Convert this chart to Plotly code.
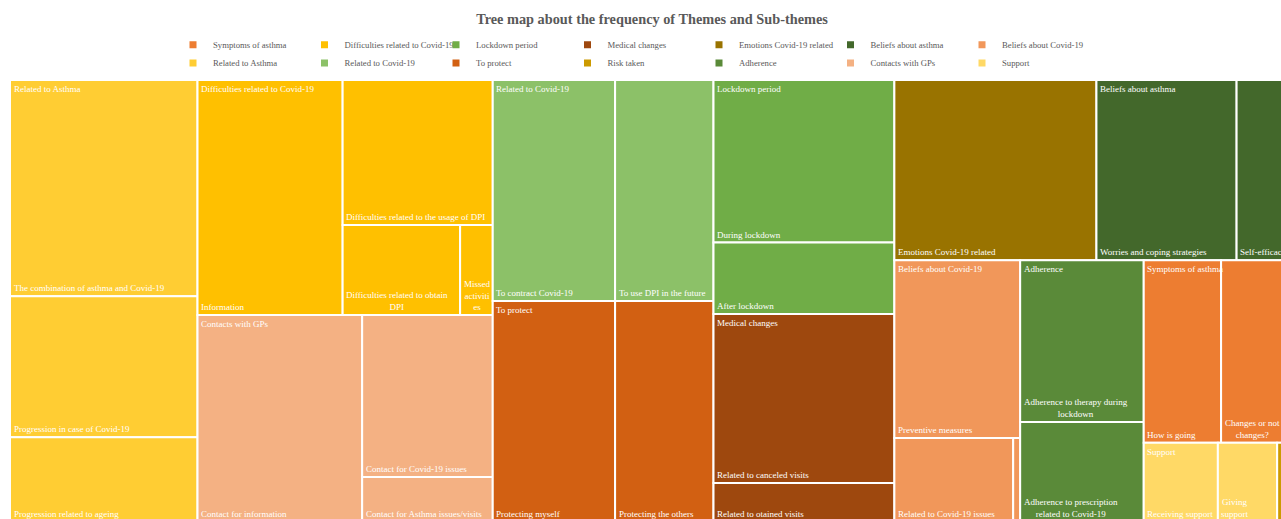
import plotly.graph_objects as go

# ---------------- data ----------------
THEMES = [
    "Symptoms of asthma", "Difficulties related to Covid-19", "Lockdown period", "Medical changes",
    "Emotions Covid-19 related", "Beliefs about asthma", "Beliefs about Covid-19",
    "Related to Asthma", "Related to Covid-19", "To protect", "Risk taken", "Adherence",
    "Contacts with GPs", "Support",
]

LEAF_THEME = [
    "Related to Asthma", "Related to Asthma", "Related to Asthma",
    "Difficulties related to Covid-19", "Difficulties related to Covid-19",
    "Difficulties related to Covid-19", "Difficulties related to Covid-19",
    "Contacts with GPs", "Contacts with GPs", "Contacts with GPs",
    "Related to Covid-19", "Related to Covid-19",
    "To protect", "To protect",
    "Lockdown period", "Lockdown period",
    "Medical changes", "Medical changes",
    "Emotions Covid-19 related",
    "Beliefs about asthma", "Beliefs about asthma",
    "Beliefs about Covid-19", "Beliefs about Covid-19", "Beliefs about Covid-19",
    "Adherence", "Adherence",
    "Symptoms of asthma", "Symptoms of asthma",
    "Support", "Support",
    "Risk taken",
]
LEAF_LABEL = [
    "The combination of asthma and Covid-19", "Progression in case of Covid-19", "Progression related to ageing",
    "Information", "Difficulties related to the usage of DPI",
    "Difficulties related to obtain DPI", "Missed activities",
    "Contact for information", "Contact for Covid-19 issues", "Contact for Asthma issues/visits",
    "To contract Covid-19", "To use DPI in the future",
    "Protecting myself", "Protecting the others",
    "During lockdown", "After lockdown",
    "Related to canceled visits", "Related to otained visits",
    "Emotions Covid-19 related",
    "Worries and coping strategies", "Self-efficacy",
    "Preventive measures", "Related to Covid-19 issues", "Other",
    "Adherence to therapy during lockdown", "Adherence to prescription related to Covid-19",
    "How is going", "Changes or not changes?",
    "Receiving support", "Giving support",
    "Risk taken",
]
LEAF_FREQ = [
    69, 45, 27,
    58, 37, 18, 5,
    58, 36, 10,
    46, 37,
    46, 37,
    50, 22,
    52, 12,
    62,
    43, 17,
    38, 17, 1,
    34, 21,
    24, 22,
    10, 8,
    2,
]

# ---------------- style / layout settings ----------------
THEME_COLORS = [
    "#ED7D31", "#FFC000", "#70AD47", "#9E480E", "#997300", "#43682B", "#F1975A",
    "#FFCD33", "#8CC168", "#D26012", "#CC9A00", "#5A8A39", "#F4B183", "#FFD966",
]
# how long labels are broken into lines inside narrow cells
LABEL_LINES = {
    "Difficulties related to obtain DPI": "Difficulties related to obtain<br>DPI",
    "Missed activities": "Missed<br>activiti<br>es",
    "Adherence to therapy during lockdown": "Adherence to therapy during<br>lockdown",
    "Adherence to prescription related to Covid-19": "Adherence to prescription<br>related to Covid-19",
    "Changes or not changes?": "Changes or not<br>changes?",
    "Giving support": "Giving<br>support",
}
FIRST_SPLIT = {"Related to Covid-19": "columns", "To protect": "columns", "Symptoms of asthma": "columns"}

FIG_W, FIG_H = 1281, 519
TREE_X0, TREE_X1, TREE_Y0, TREE_Y1 = 10, 1292, 80, 522
RATIO = 0.78
FONT = "Liberation Serif"
TEXT_GREY = "#595959"


def squarify(values, x0, y0, x1, y1, ratio, first=None):
    """Squarified treemap tiling (d3-style) of already sorted values."""
    n = len(values)
    rects = [None] * n
    total = float(sum(values))
    i0 = 0
    first_row = True
    while i0 < n:
        dx, dy = x1 - x0, y1 - y0
        i1 = i0 + 1
        s = float(values[i0])
        vmin = vmax = s
        alpha = max(dy / dx, dx / dy) / (total * ratio)
        beta = s * s * alpha
        best = max(vmax / beta, beta / vmin)
        while i1 < n:
            v = values[i1]
            s2 = s + v
            mn, mx = min(vmin, v), max(vmax, v)
            beta = s2 * s2 * alpha
            score = max(mx / beta, beta / mn)
            if score > best:
                break
            s, vmin, vmax, best = s2, mn, mx, score
            i1 += 1
        dice = dx < dy
        if first_row and first:
            dice = first == "rows"
        first_row = False
        last = i1 >= n
        if dice:
            h = dy if last else dy * s / total
            x = x0
            for i in range(i0, i1):
                w = dx * values[i] / s
                rects[i] = (x, y0, x + w, y0 + h)
                x += w
            y0 += h
        else:
            w = dx if last else dx * s / total
            y = y0
            for i in range(i0, i1):
                h = dy * values[i] / s
                rects[i] = (x0, y, x0 + w, y + h)
                y += h
            x0 += w
        total -= s
        i0 = i1
    return rects


# ---------------- layout computation ----------------
theme_leaves = {t: [] for t in THEMES}
for t, lab, f in zip(LEAF_THEME, LEAF_LABEL, LEAF_FREQ):
    theme_leaves[t].append((lab, f))
theme_total = {t: sum(f for _, f in theme_leaves[t]) for t in THEMES}

order = sorted(range(len(THEMES)), key=lambda i: -theme_total[THEMES[i]])
top_rects = squarify([theme_total[THEMES[i]] for i in order], TREE_X0, TREE_Y0, TREE_X1, TREE_Y1, RATIO)

fig = go.Figure()
annotations = []
PAD_X, PAD_TOP, PAD_BOTTOM = 3.5, 4, 3

for idx, rect in zip(order, top_rects):
    theme = THEMES[idx]
    color = THEME_COLORS[idx]
    leaves = sorted(theme_leaves[theme], key=lambda p: -p[1])
    vals = [f for _, f in leaves]
    rects = squarify(vals, *rect, RATIO, FIRST_SPLIT.get(theme))
    fig.add_trace(go.Bar(
        x=[(r[0] + r[2]) / 2 for r in rects],
        width=[r[2] - r[0] for r in rects],
        base=[r[1] for r in rects],
        y=[r[3] - r[1] for r in rects],
        marker=dict(color=color, line=dict(color="white", width=2)),
        customdata=[[lab, f] for lab, f in leaves],
        hovertemplate=theme + "<br>%{customdata[0]}: %{customdata[1]}<extra></extra>",
        showlegend=False,
    ))
    for (lab, f), r in zip(leaves, rects):
        if r[2] - r[0] < 15:
            continue
        annotations.append(dict(
            x=r[0] + PAD_X, y=r[3] - PAD_BOTTOM, xref="x", yref="y", xanchor="left", yanchor="bottom",
            text=LABEL_LINES.get(lab, lab), showarrow=False, align="center",
            borderpad=0, borderwidth=0, font=dict(family=FONT, size=9, color="white"),
        ))
    if any(lab != theme for lab, _ in leaves):
        annotations.append(dict(
            x=rect[0] + PAD_X, y=rect[1] + PAD_TOP, xref="x", yref="y", xanchor="left", yanchor="top",
            text=theme, showarrow=False, align="left",
            borderpad=0, borderwidth=0, font=dict(family=FONT, size=9, color="white"),
        ))

# legend entries (two rows, seven per row, in the original order)
for i, (theme, color) in enumerate(zip(THEMES, THEME_COLORS)):
    fig.add_trace(go.Scatter(
        x=[None], y=[None], mode="markers", name=theme,
        marker=dict(symbol="square", size=7, color=color),
        legend="legend" if i < 7 else "legend2", showlegend=True, hoverinfo="skip",
    ))

legend_common = dict(
    orientation="h", xanchor="left", x=173 / FIG_W, yanchor="middle",
    entrywidth=86.5, entrywidthmode="pixels", bgcolor="rgba(0,0,0,0)",
    font=dict(family=FONT, size=8.7, color=TEXT_GREY), itemclick=False, itemdoubleclick=False,
)

fig.update_layout(
    width=FIG_W, height=FIG_H,
    margin=dict(l=0, r=0, t=0, b=0),
    paper_bgcolor="white", plot_bgcolor="white",
    barmode="overlay",
    title=dict(
        text="Tree map about the frequency of Themes and Sub-themes",
        x=652 / FIG_W, xanchor="center", y=1 - 19 / FIG_H, yanchor="middle",
        font=dict(family=FONT, size=14.3, color=TEXT_GREY, weight="bold"),
    ),
    xaxis=dict(range=[0, FIG_W], visible=False, fixedrange=True),
    yaxis=dict(range=[FIG_H, 0], visible=False, fixedrange=True),
    legend=dict(legend_common, y=1 - 44.7 / FIG_H),
    legend2=dict(legend_common, y=1 - 63 / FIG_H),
    annotations=annotations,
    font=dict(family=FONT),
)

fig.write_html(
    "out.html",
    config={"displayModeBar": False},
    post_script="document.body.style.margin='0px'; document.body.style.overflow='hidden';",
)
